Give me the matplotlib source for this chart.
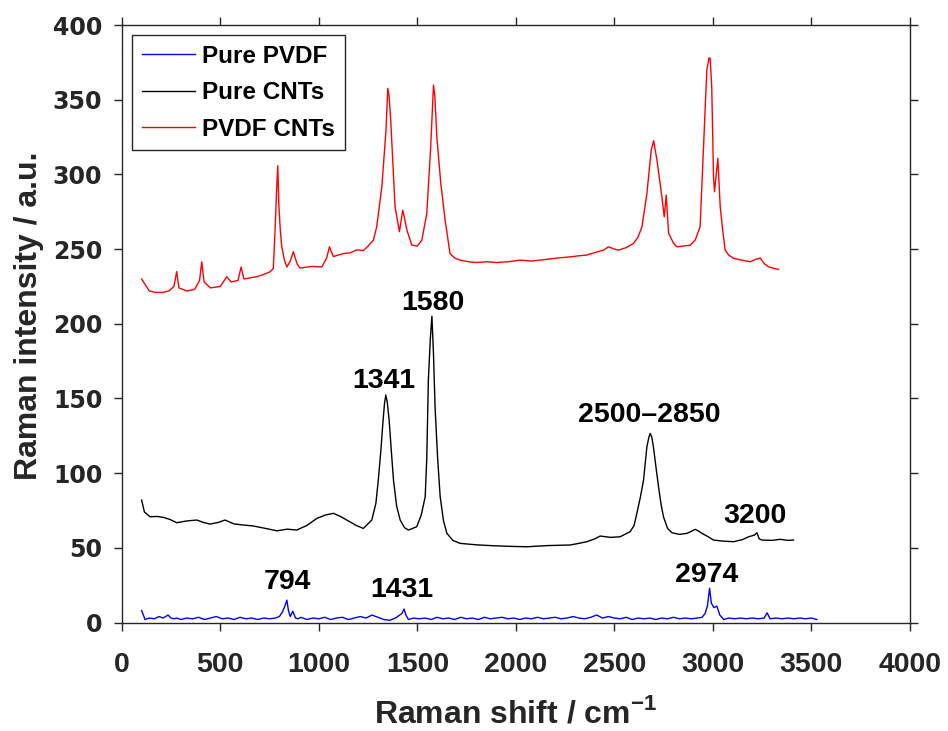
import matplotlib
matplotlib.use('Agg')
import matplotlib.pyplot as plt

# 라만 스펙트럼: Pure PVDF / Pure CNTs / PVDF CNTs

plt.rcParams['font.family'] = ['Liberation Sans', 'DejaVu Sans']
plt.rcParams['mathtext.fontset'] = 'custom'
plt.rcParams['mathtext.rm'] = 'Liberation Sans:bold'
plt.rcParams['mathtext.bf'] = 'Liberation Sans:bold'

# (Raman shift, intensity)
pvdf = [(101, 8), (110, 5), (118, 2), (140, 3), (165, 2.5), (190, 4), (210, 3), (235, 5),
        (250, 3), (265, 2.5), (280, 3), (300, 2), (330, 3), (360, 2.5), (390, 3.5), (420, 2),
        (450, 3), (480, 4), (510, 2.5), (540, 3), (570, 2), (600, 3.5), (630, 2.5), (660, 3),
        (690, 2), (720, 3), (750, 2.5), (780, 3), (800, 4), (815, 7), (828, 11), (838, 15),
        (846, 8), (855, 4), (868, 7.5), (882, 3), (895, 2.5), (910, 3.5), (940, 2), (970, 3),
        (1000, 2.5), (1030, 3.5), (1060, 2), (1090, 3), (1120, 3.5), (1150, 2), (1180, 3),
        (1210, 4), (1240, 3), (1270, 5), (1300, 3.5), (1330, 2), (1360, 1.5), (1390, 3),
        (1410, 5), (1422, 6), (1433, 9), (1442, 5), (1455, 2), (1480, 3), (1510, 2.5),
        (1540, 3), (1570, 2), (1600, 3.5), (1630, 2.5), (1660, 3), (1690, 2), (1720, 3.5),
        (1750, 2.5), (1780, 3), (1810, 2), (1840, 3.5), (1870, 2.5), (1900, 3), (1930, 3.5),
        (1960, 2.5), (1990, 3), (2020, 2), (2050, 3), (2080, 2.5), (2110, 3.5), (2140, 2.5),
        (2170, 3), (2200, 3.5), (2230, 2.5), (2260, 3), (2290, 4), (2320, 3), (2350, 2.5),
        (2380, 3.5), (2410, 5), (2440, 3), (2470, 4), (2500, 3), (2530, 2.5), (2560, 3.5),
        (2590, 2), (2620, 3), (2650, 2.5), (2680, 3), (2710, 2), (2740, 3), (2770, 2.5),
        (2800, 3.5), (2830, 2.5), (2860, 3), (2890, 2.5), (2920, 3), (2945, 3.5), (2960, 6),
        (2972, 11), (2983, 23), (2992, 13), (3005, 10), (3020, 11), (3035, 5), (3055, 2),
        (3080, 3), (3110, 2.5), (3140, 3), (3170, 2.5), (3200, 3), (3230, 2.5), (3260, 3),
        (3275, 6.5), (3290, 2.5), (3320, 3), (3350, 2.5), (3380, 3), (3410, 2.5), (3440, 3),
        (3470, 2.5), (3500, 3), (3528, 2)]

cnts = [(101, 82), (115, 74), (144, 70.8), (180, 71), (211, 70.4), (245, 69), (279, 66.8),
        (330, 68), (381, 68.6), (415, 67), (448, 65.9), (490, 67), (524, 68.6), (570, 66),
        (617, 65.3), (668, 64.6), (730, 63), (787, 61.4), (840, 62.5), (888, 61.9), (940, 65),
        (990, 69.7), (1035, 72), (1074, 73.1), (1110, 71), (1142, 68.6), (1190, 65),
        (1226, 63), (1269, 68.6), (1290, 80), (1302, 95.4), (1315, 115), (1325, 133.3),
        (1333, 146), (1340, 152.3), (1347, 148), (1357, 135.5), (1368, 115), (1379, 95.4),
        (1395, 78), (1413, 68.6), (1435, 63.5), (1455, 61.9), (1497, 64.1), (1520, 72),
        (1540, 84.2), (1548, 110), (1556, 162.3), (1566, 190), (1574, 205), (1582, 180),
        (1590, 144.4), (1603, 110), (1616, 84.2), (1633, 68), (1650, 59.7), (1680, 55),
        (1717, 53), (1800, 52), (1886, 51.4), (1970, 51), (2056, 50.7), (2160, 51.5),
        (2276, 51.9), (2320, 53), (2360, 54.1), (2400, 56), (2428, 57.9), (2480, 57),
        (2529, 57.4), (2580, 60.8), (2600, 65), (2614, 73.1), (2632, 84), (2648, 95.4),
        (2665, 117.7), (2675, 124), (2682, 126.6), (2690, 124), (2698, 117.7), (2712, 103),
        (2724, 90.9), (2737, 79), (2749, 70.8), (2770, 63), (2792, 60.1), (2830, 59),
        (2868, 59.7), (2890, 61), (2910, 62.4), (2930, 61), (2944, 59.7), (2975, 57.5),
        (3003, 55.2), (3050, 54.5), (3105, 54.1), (3150, 55.5), (3181, 57.4), (3210, 58.5),
        (3223, 60.1), (3235, 56), (3249, 55.2), (3300, 55), (3342, 55.7), (3380, 55),
        (3409, 55.2)]

pvdf_cnts = [(101, 230), (120, 226), (140, 222), (170, 221), (210, 221), (240, 222),
             (265, 225), (279, 235), (290, 224), (330, 222), (370, 223), (395, 229),
             (406, 241.5), (418, 228), (450, 224), (500, 225), (533, 231.5), (555, 228),
             (590, 229), (606, 238), (620, 230), (685, 231.5), (720, 233), (753, 234.8),
             (769, 237), (778, 262), (786, 290), (792, 305.8), (797, 280), (805, 262),
             (812, 251.6), (825, 243), (838, 238), (855, 242), (871, 248.2), (890, 240),
             (905, 237.3), (940, 238), (971, 238.4), (1015, 238), (1040, 244), (1054, 251.5),
             (1074, 245), (1100, 246), (1125, 247), (1160, 247.5), (1193, 249.5), (1226, 249),
             (1250, 252), (1277, 256), (1294, 265), (1320, 291.7), (1341, 329.6),
             (1350, 357.6), (1357, 352), (1365, 336.3), (1387, 278.3), (1409, 261.6),
             (1426, 276), (1433, 272), (1447, 262.7), (1472, 252.7), (1500, 252), (1523, 256),
             (1548, 273.9), (1568, 318.5), (1582, 359.8), (1589, 352), (1599, 325.2),
             (1619, 294), (1641, 269.4), (1666, 247), (1690, 244), (1717, 242.6),
             (1760, 241.5), (1800, 241), (1850, 241.5), (1900, 241), (1960, 241.5),
             (2022, 242.6), (2080, 242), (2150, 243), (2210, 244), (2276, 244.8),
             (2320, 245.5), (2360, 246), (2410, 248), (2445, 249.3), (2470, 251.5),
             (2500, 250), (2521, 249.3), (2560, 251), (2597, 253.8), (2620, 258), (2640, 265),
             (2665, 287.3), (2687, 316.3), (2699, 322.5), (2716, 309.6), (2741, 285),
             (2753, 271.6), (2763, 286.1), (2775, 260.5), (2800, 254), (2817, 251.5),
             (2850, 252), (2885, 252.6), (2910, 256), (2935, 265), (2956, 329.6),
             (2969, 369.8), (2980, 378), (2986, 377.6), (2994, 358.6), (3003, 298.4),
             (3008, 288.4), (3017, 300), (3025, 310.7), (3037, 278.3), (3050, 262),
             (3062, 249.3), (3080, 246), (3105, 243.8), (3150, 242.5), (3189, 241.5),
             (3215, 243), (3240, 244), (3262, 240), (3282, 238.2), (3310, 237), (3333, 236.4)]

tick_x = [0, 500, 1000, 1500, 2000, 2500, 3000, 3500, 4000]
tick_y = [0, 50, 100, 150, 200, 250, 300, 350, 400]

# peak labels: (text, x, baseline y)
peak_labels = [('1580', 1578, 209), ('1341', 1329, 157), ('2500\u20132850', 2676, 134),
               ('3200', 3215, 66.6), ('794', 842, 22.4), ('1431', 1423, 17.3),
               ('2974', 2970, 27.3)]

gray = '#262626'

fig = plt.figure(figsize=(9.48, 7.31), dpi=100)
ax = fig.add_axes([0.1284, 0.1484, 0.8315, 0.8174])

for data, c, lab in [(pvdf, 'blue', 'Pure PVDF'), (cnts, 'black', 'Pure CNTs'),
                     (pvdf_cnts, 'red', 'PVDF CNTs')]:
    xs, ys = zip(*data)
    ax.plot(xs, ys, color=c, lw=1, label=lab)

for txt, x, y in peak_labels:
    ax.text(x, y, txt, ha='center', va='baseline', fontsize=20.5,
            fontweight='bold', color='black')

ax.set_xlim(0, 4000)
ax.set_ylim(0, 400)
ax.set_xticks(tick_x)
ax.set_yticks(tick_y)
ax.tick_params(direction='out', length=6, width=1, color=gray,
               top=True, right=True)
ax.tick_params(axis='x', pad=15)
ax.tick_params(axis='y', pad=8)
for lab in ax.get_xticklabels():
    lab.set_fontfamily('Liberation Sans')
    lab.set_fontweight('bold')
    lab.set_fontsize(20.5)
    lab.set_color(gray)
for lab in ax.get_yticklabels():
    lab.set_fontfamily('DejaVu Sans')
    lab.set_fontweight('bold')
    lab.set_fontsize(17)
    lab.set_color(gray)
for sp in ax.spines.values():
    sp.set_color(gray)
    sp.set_linewidth(1)

ax.set_xlabel('Raman shift / cm$^{\u22121}$', fontsize=23, fontweight='bold',
              color=gray, labelpad=14.5)
ax.set_ylabel('Raman intensity / a.u.', fontsize=23, fontweight='bold', color=gray)
ax.yaxis.set_label_coords(-0.098, 0.513)

leg = ax.legend(loc='upper left', bbox_to_anchor=(0.013, 0.983), borderaxespad=0,
                fancybox=False, edgecolor=gray, framealpha=1,
                prop={'weight': 'bold', 'size': 17.5}, handlelength=2.2,
                handletextpad=0.3, labelspacing=0.55, borderpad=0.4)
leg.get_frame().set_linewidth(1)

fig.savefig('out.png', dpi=100)
